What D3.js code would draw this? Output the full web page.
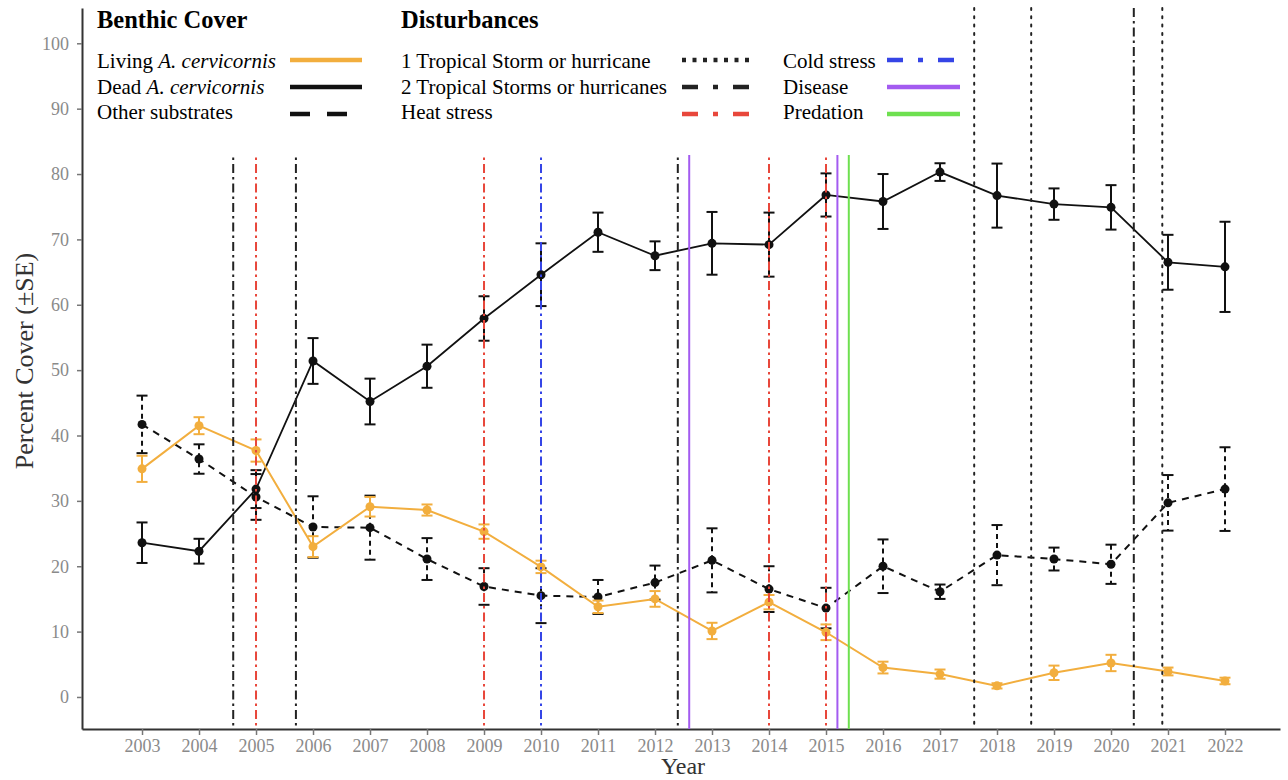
<!DOCTYPE html>
<html>
<head>
<meta charset="utf-8">
<script src="https://cdn.jsdelivr.net/npm/d3@7"></script>
<style>
    body { margin: 0; background: #fff; }
    text { font-family: "Liberation Serif", "DejaVu Serif", serif; }
</style>
</head>
<body>
<svg id="chart" width="1288" height="780"></svg>
<script>
// survey years
var years = [2003, 2004, 2005, 2006, 2007, 2008, 2009, 2010, 2011, 2012,
             2013, 2014, 2015, 2016, 2017, 2018, 2019, 2020, 2021, 2022];

// percent cover and SE
var livingMean = [34.9, 41.5, 37.7, 23.0, 29.1, 28.6, 25.3, 19.9, 13.8, 15.0,
                  10.1, 14.5, 9.9, 4.5, 3.5, 1.7, 3.7, 5.2, 3.9, 2.45];
var livingSE   = [2.0, 1.3, 1.7, 1.6, 1.5, 0.85, 1.1, 0.95, 0.95, 1.2,
                  1.25, 1.1, 1.2, 0.9, 0.7, 0.4, 1.1, 1.25, 0.6, 0.5];
var deadMean   = [23.6, 22.3, 31.8, 51.4, 45.2, 50.6, 57.9, 64.6, 71.1, 67.5,
                  69.4, 69.2, 76.8, 75.8, 80.3, 76.7, 75.4, 74.9, 66.5, 65.8];
var deadSE     = [3.1, 1.9, 2.9, 3.5, 3.5, 3.3, 3.4, 4.8, 3.0, 2.2,
                  4.8, 4.9, 3.3, 4.2, 1.35, 4.9, 2.4, 3.4, 4.2, 6.9];
var otherMean  = [41.7, 36.4, 30.6, 26.0, 25.9, 21.1, 16.9, 15.5, 15.3, 17.5,
                  20.9, 16.5, 13.6, 20.0, 16.1, 21.7, 21.1, 20.3, 29.7, 31.8];
var otherSE    = [4.4, 2.25, 3.5, 4.7, 4.9, 3.2, 2.8, 4.2, 2.6, 2.6,
                  4.9, 3.5, 3.1, 4.1, 1.1, 4.6, 1.75, 3.0, 4.25, 6.4];

// disturbance events (decimal year) and their type
var eventYears = [2004.6, 2005.0, 2005.7, 2009.0, 2010.0, 2012.4, 2012.6, 2014.0,
                  2015.0, 2015.2, 2015.4, 2017.6, 2018.6, 2020.4, 2020.9];
var eventTypes = ['storm2', 'heat', 'storm2', 'heat', 'cold', 'storm2', 'disease', 'heat',
                  'heat', 'disease', 'predation', 'storm1', 'storm1', 'storm2', 'storm1'];

var yTicks = [0, 10, 20, 30, 40, 50, 60, 70, 80, 90, 100];

var orange = '#F2AE3E';
var eventStyle = {
    storm1:    { color: '#222', dash: '2,6.3', key: '4,6.5' },
    storm2:    { color: '#222', dash: '9,4,2.5,4', key: '16,15,5,15' },
    heat:      { color: '#E8473B', dash: '9,4,2.5,4', key: '16,15,5,15' },
    cold:      { color: '#3545E6', dash: '9,4,2.5,4', key: '16,15,5,15' },
    disease:   { color: '#A35BF0', dash: null, key: null },
    predation: { color: '#6EE050', dash: null, key: null }
};

var svg = d3.select('#chart');

var x = d3.scaleLinear().domain([2001.947, 2022.965]).range([82, 1280]),
    y = d3.scaleLinear().domain([-4.9, 105.4]).range([729, 8]);

// axes
var xAxis = d3.axisBottom(x).tickValues(years).tickFormat(d3.format('d')).tickSize(6).tickSizeOuter(0),
    yAxis = d3.axisLeft(y).tickValues(yTicks).tickSize(5).tickSizeOuter(0);

var gx = svg.append('g').attr('transform', 'translate(0,729)').call(xAxis);
var gy = svg.append('g').attr('transform', 'translate(82,0)').call(yAxis);
[gx, gy].forEach(function(g) {
    g.select('.domain').attr('stroke', '#333').attr('stroke-width', 2);
    g.selectAll('.tick line').attr('stroke', '#777').attr('stroke-width', 1.5);
    g.selectAll('.tick text').attr('fill', '#8a8a8a').style('font-size', '18px')
        .style('font-family', '"Liberation Serif", serif');
});
gx.selectAll('.tick text').attr('dy', '0.8em');
gy.selectAll('.tick text').attr('x', -13);

svg.append('text').attr('x', 683).attr('y', 774).attr('text-anchor', 'middle')
    .style('font-size', '24px').attr('fill', '#333').text('Year');
svg.append('text').attr('transform', 'translate(33,361) rotate(-90)').attr('text-anchor', 'middle')
    .style('font-size', '26px').attr('fill', '#333').text('Percent Cover (\u00b1SE)');

// series
var series = [
    { mean: otherMean, se: otherSE, color: '#111', dash: '7,6', width: 2, errDash: '5,4' },
    { mean: deadMean, se: deadSE, color: '#111', dash: null, width: 1.8, errDash: null },
    { mean: livingMean, se: livingSE, color: orange, dash: null, width: 2, errDash: null }
];

var line = d3.line().x(function(d) { return x(d.year); }).y(function(d) { return y(d.value); });

series.forEach(function(s) {
    var pts = years.map(function(yr, i) { return { year: yr, value: s.mean[i], se: s.se[i] }; });
    var g = svg.append('g');

    g.append('path').datum(pts).attr('d', line)
        .attr('fill', 'none').attr('stroke', s.color).attr('stroke-width', s.width)
        .attr('stroke-dasharray', s.dash);

    var eb = g.selectAll('.eb').data(pts).enter().append('g');
    eb.append('line')
        .attr('x1', function(d) { return x(d.year); }).attr('x2', function(d) { return x(d.year); })
        .attr('y1', function(d) { return y(d.value + d.se); }).attr('y2', function(d) { return y(d.value - d.se); })
        .attr('stroke', s.color).attr('stroke-width', 2).attr('stroke-dasharray', s.errDash);
    [1, -1].forEach(function(sign) {
        eb.append('line')
            .attr('x1', function(d) { return x(d.year) - 5.5; }).attr('x2', function(d) { return x(d.year) + 5.5; })
            .attr('y1', function(d) { return y(d.value + sign * d.se); })
            .attr('y2', function(d) { return y(d.value + sign * d.se); })
            .attr('stroke', s.color).attr('stroke-width', 2);
    });

    g.selectAll('circle').data(pts).enter().append('circle')
        .attr('cx', function(d) { return x(d.year); })
        .attr('cy', function(d) { return y(d.value); })
        .attr('r', 4.5).attr('fill', s.color);
});

// disturbance lines, drawn over the data
svg.append('g').selectAll('line').data(eventYears).enter().append('line')
    .attr('x1', function(d) { return x(d); }).attr('x2', function(d) { return x(d); })
    .attr('y1', y(105.4)).attr('y2', 729)
    .attr('stroke', function(d, i) { return eventStyle[eventTypes[i]].color; })
    .attr('stroke-width', 2)
    .attr('stroke-dasharray', function(d, i) { return eventStyle[eventTypes[i]].dash; })
    .attr('stroke-linecap', function(d, i) { return eventTypes[i] === 'storm1' ? 'round' : 'butt'; });

// legend, white box over the plot
var legend = svg.append('g');
legend.append('rect').attr('x', 88).attr('y', 0).attr('width', 880).attr('height', 155).attr('fill', '#fff');

legend.append('text').attr('x', 97).attr('y', 28).style('font-size', '24.5px')
    .style('font-weight', 'bold').text('Benthic Cover');
legend.append('text').attr('x', 401).attr('y', 28).style('font-size', '24.5px')
    .style('font-weight', 'bold').text('Disturbances');

var rowY = [68, 94, 119],      // text baselines
    keyY = [60, 87, 114];      // key line positions

var benthic = [
    { pre: 'Living ', it: 'A. cervicornis', color: orange, dash: null },
    { pre: 'Dead ', it: 'A. cervicornis', color: '#111', dash: null },
    { pre: 'Other substrates', it: '', color: '#111', dash: '20,17' }
];
benthic.forEach(function(b, i) {
    var t = legend.append('text').attr('x', 97).attr('y', rowY[i]).style('font-size', '21px');
    t.append('tspan').text(b.pre);
    if (b.it) t.append('tspan').style('font-style', 'italic').text(b.it);
    legend.append('line').attr('x1', 290).attr('x2', 362).attr('y1', keyY[i]).attr('y2', keyY[i])
        .attr('stroke', b.color).attr('stroke-width', 4.5).attr('stroke-dasharray', b.dash);
});

var dist = [
    { label: '1 Tropical Storm or hurricane', type: 'storm1', tx: 401, kx: 682, row: 0 },
    { label: '2 Tropical Storms or hurricanes', type: 'storm2', tx: 401, kx: 682, row: 1 },
    { label: 'Heat stress', type: 'heat', tx: 401, kx: 682, row: 2 },
    { label: 'Cold stress', type: 'cold', tx: 783, kx: 887, row: 0 },
    { label: 'Disease', type: 'disease', tx: 783, kx: 887, row: 1 },
    { label: 'Predation', type: 'predation', tx: 783, kx: 887, row: 2 }
];
dist.forEach(function(d) {
    var st = eventStyle[d.type];
    legend.append('text').attr('x', d.tx).attr('y', rowY[d.row]).style('font-size', '21px').text(d.label);
    legend.append('line').attr('x1', d.kx).attr('x2', d.kx + 73).attr('y1', keyY[d.row]).attr('y2', keyY[d.row])
        .attr('stroke', st.color).attr('stroke-width', 4.5).attr('stroke-dasharray', st.key);
});
</script>
</body>
</html>
